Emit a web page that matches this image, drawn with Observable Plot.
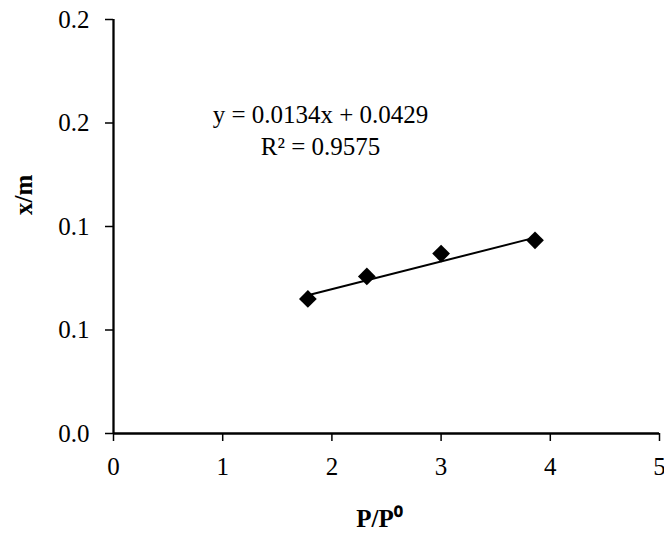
<!DOCTYPE html>
<html>
<head>
<meta charset="utf-8">
<script src="https://cdn.jsdelivr.net/npm/d3@7"></script>
<script src="https://cdn.jsdelivr.net/npm/@observablehq/plot@0.6"></script>
<style>
  html, body { margin: 0; padding: 0; background: #fff; }
</style>
</head>
<body>
<div id="chart"></div>
<script>
const pressureRatio = [1.78, 2.32, 3.00, 3.86];
const adsorbed = [0.0650, 0.0759, 0.0869, 0.0933];
const xTicks = [0, 1, 2, 3, 4, 5];
const yTicks = [0, 0.05, 0.1, 0.15, 0.2];
const yTickLabels = ["0.0", "0.1", "0.1", "0.2", "0.2"];
const slope = 0.0134;
const intercept = 0.0429;
const equationText = "y = 0.0134x + 0.0429";
const r2Text = "R² = 0.9575";
const xLabel = "P/P⁰";
const yLabel = "x/m";

const points = pressureRatio.map((x, i) => ({x, y: adsorbed[i]}));
const xMin = d3.min(pressureRatio), xMax = d3.max(pressureRatio);
const trend = [xMin, xMax].map(x => ({x, y: slope * x + intercept}));

const FS = 25;
const chart = Plot.plot({
  width: 664,
  height: 536,
  marginLeft: 113,
  marginRight: 5,
  marginTop: 19,
  marginBottom: 103,
  style: {fontFamily: "'Liberation Serif', 'Times New Roman', serif", fontSize: FS + "px", color: "#000", background: "#fff"},
  x: {domain: [0, 5]},
  y: {domain: [0, 0.2]},
  marks: [
    Plot.axisX({ticks: xTicks, tickSize: 8, tickPadding: 16, tickFormat: d => String(d), label: null, fontSize: FS, stroke: "#000", strokeWidth: 1.5}),
    Plot.axisY({ticks: yTicks, tickSize: 8, tickPadding: 16, tickFormat: (d, i) => yTickLabels[i], label: null, fontSize: FS, stroke: "#000", strokeWidth: 1.5}),
    Plot.ruleX([0], {stroke: "#000", strokeWidth: 2.3}),
    Plot.ruleY([0], {stroke: "#000", strokeWidth: 2.3}),
    Plot.line(trend, {x: "x", y: "y", stroke: "#000", strokeWidth: 2}),
    Plot.dot(points, {x: "x", y: "y", symbol: "diamond2", r: 8, fill: "#000", stroke: "none"}),
    Plot.text([equationText], {frameAnchor: "top-left", lineAnchor: "middle", dx: 207, dy: 95.5, text: d => d, textAnchor: "middle", fontSize: FS}),
    Plot.text([r2Text], {frameAnchor: "top-left", lineAnchor: "middle", dx: 207, dy: 127.5, text: d => d, textAnchor: "middle", fontSize: FS}),
    Plot.text([xLabel], {frameAnchor: "bottom", lineAnchor: "middle", dx: -7, dy: 85.5, text: d => d, fontWeight: "bold", fontSize: FS}),
    Plot.text([yLabel], {frameAnchor: "left", lineAnchor: "middle", dx: -90, dy: -11.5, rotate: -90, text: d => d, fontWeight: "bold", fontSize: FS})
  ]
});
document.getElementById("chart").appendChild(chart);
</script>
</body>
</html>
